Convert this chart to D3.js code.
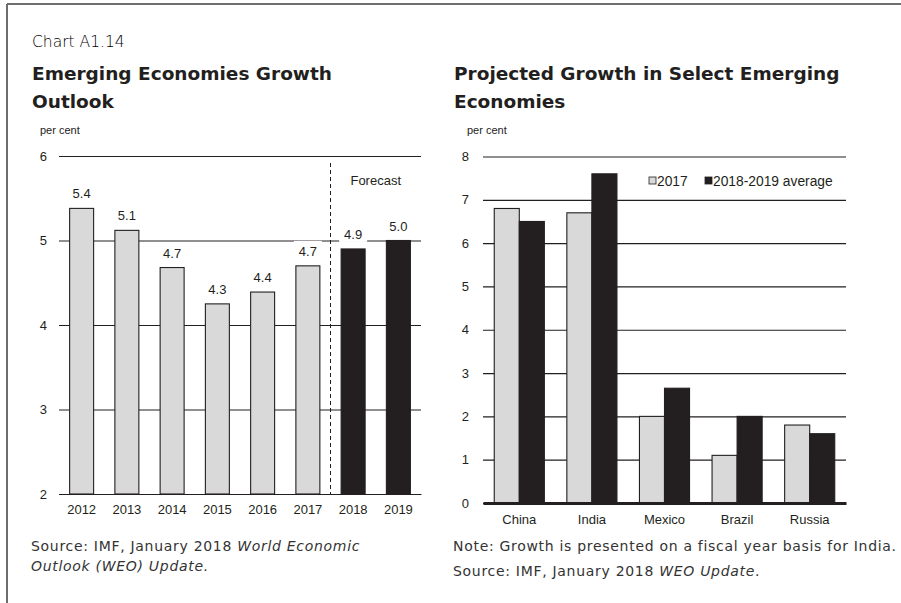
<!DOCTYPE html>
<html>
<head>
<meta charset="utf-8">
<script src="https://cdn.jsdelivr.net/npm/d3@7"></script>
<style>
  html, body { margin: 0; padding: 0; background: #fff; }
  svg { display: block; }
</style>
</head>
<body>
<svg id="chart" width="901" height="603"></svg>
<script>
// ---- Data ----
const years = ["2012", "2013", "2014", "2015", "2016", "2017", "2018", "2019"];
const growth = [5.38, 5.12, 4.68, 4.25, 4.39, 4.70, 4.90, 5.00];
const growthLabels = ["5.4", "5.1", "4.7", "4.3", "4.4", "4.7", "4.9", "5.0"];
const forecastYears = ["2018", "2019"];
const leftTicks = [2, 3, 4, 5, 6];

const countries = ["China", "India", "Mexico", "Brazil", "Russia"];
const series = ["2017", "2018-2019 average"];
const growth2017 = [6.8, 6.7, 2.0, 1.1, 1.8];
const growthAvg = [6.5, 7.6, 2.65, 2.0, 1.6];
const rightTicks = [0, 1, 2, 3, 4, 5, 6, 7, 8];

const svg = d3.select("#chart");
const font = "'Liberation Sans', Arial, sans-serif";
const titleFont = "'DejaVu Sans', sans-serif";
const GREY = "#d9d9d9", BLACK = "#231f20";
const NOTE_SIZE = 14, NOTE_LS = 0.7;

// frame
svg.append("line").attr("x1", 7).attr("x2", 901).attr("y1", 4).attr("y2", 4)
  .attr("stroke", "#6d6d6d").attr("stroke-width", 2);
svg.append("line").attr("x1", 7).attr("x2", 7).attr("y1", 4).attr("y2", 603)
  .attr("stroke", "#6d6d6d").attr("stroke-width", 2);

// titles
svg.append("text").attr("x", 32).attr("y", 47).text("Chart A1.14")
  .attr("font-family", titleFont).attr("font-size", 15.5).attr("font-weight", 300).attr("fill", "#000");
[["Emerging Economies Growth", 32, 80], ["Outlook", 32, 108],
 ["Projected Growth in Select Emerging", 454, 80], ["Economies", 454, 108]].forEach(([t, x, y]) => {
  svg.append("text").attr("x", x).attr("y", y).text(t)
    .attr("font-family", titleFont).attr("font-size", 18.5).attr("font-weight", "bold").attr("fill", "#231f20");
});

// ---------------- Left chart ----------------
const L = { x0: 59, x1: 421, yTop: 156, yBot: 494 };
const xL = d3.scaleBand().domain(years).range([L.x0, L.x1]).paddingInner(0.47).paddingOuter(0.235);
const yL = d3.scaleLinear().domain([2, 6]).range([L.yBot, L.yTop]);
const gL = svg.append("g");

gL.append("text").attr("x", 40).attr("y", 134).text("per cent")
  .attr("font-family", font).attr("font-size", 11).attr("fill", "#222");

const axL = gL.append("g").attr("transform", `translate(${L.x0},0)`)
  .call(d3.axisLeft(yL).tickValues(leftTicks).tickSize(-(L.x1 - L.x0)).tickPadding(12).tickFormat(d3.format("d")));
axL.select(".domain").remove();
axL.selectAll(".tick line").attr("stroke", "#231f20").attr("stroke-width", 1.2);
axL.selectAll(".tick text").attr("font-family", font).attr("font-size", 13).attr("fill", "#231f20");

// dashed forecast separator
const sepX = (xL("2017") + xL.bandwidth() + xL("2018")) / 2;
gL.append("line").attr("x1", sepX).attr("x2", sepX).attr("y1", 163).attr("y2", L.yBot)
  .attr("stroke", "#231f20").attr("stroke-width", 1).attr("stroke-dasharray", "4,3");

// bars
gL.selectAll("rect.bar").data(years).enter().append("rect")
  .attr("x", d => xL(d)).attr("width", xL.bandwidth())
  .attr("y", (d, i) => yL(growth[i])).attr("height", (d, i) => yL(2) - yL(growth[i]))
  .attr("fill", d => forecastYears.includes(d) ? BLACK : GREY)
  .attr("stroke", "#231f20").attr("stroke-width", 1.1);

// value labels with white boxes
const lab = gL.selectAll("g.lab").data(years).enter().append("g");
lab.append("rect")
  .attr("x", d => xL(d) + xL.bandwidth() / 2 - 14).attr("width", 28)
  .attr("y", (d, i) => yL(growth[i]) - 25).attr("height", 18).attr("fill", "#fff");
lab.append("text")
  .attr("x", d => xL(d) + xL.bandwidth() / 2)
  .attr("y", (d, i) => yL(growth[i]) - 10)
  .attr("text-anchor", "middle").text((d, i) => growthLabels[i])
  .attr("font-family", font).attr("font-size", 13).attr("fill", "#231f20");

// forecast label
gL.append("rect").attr("x", 346).attr("y", 170).attr("width", 62).attr("height", 20).attr("fill", "#fff");
gL.append("text").attr("x", (xL("2018") + xL("2019") + xL.bandwidth()) / 2).attr("y", 185)
  .attr("text-anchor", "middle").text("Forecast")
  .attr("font-family", font).attr("font-size", 13).attr("fill", "#231f20");

// x axis
const axXL = gL.append("g").attr("transform", `translate(0,${L.yBot})`)
  .call(d3.axisBottom(xL).tickSize(0).tickPadding(11));
axXL.select(".domain").attr("stroke", "#231f20").attr("stroke-width", 1.2);
axXL.selectAll(".tick text").attr("font-family", font).attr("font-size", 13).attr("fill", "#231f20");

// source
const srcL = svg.append("text").attr("font-family", titleFont).attr("font-size", NOTE_SIZE)
  .attr("letter-spacing", NOTE_LS).attr("fill", "#333");
srcL.append("tspan").attr("x", 31).attr("y", 551).text("Source: IMF, January 2018 ");
srcL.append("tspan").attr("font-style", "italic").text("World Economic");
svg.append("text").attr("x", 31).attr("y", 571).attr("font-family", titleFont).attr("font-size", NOTE_SIZE)
  .attr("letter-spacing", NOTE_LS).attr("font-style", "italic").attr("fill", "#333").text("Outlook (WEO) Update.");

// ---------------- Right chart ----------------
const R = { x0: 483, x1: 846, yTop: 156.5, yBot: 503 };
const xR = d3.scaleBand().domain(countries).range([R.x0, R.x1]).paddingInner(0.31).paddingOuter(0.155);
const xR1 = d3.scaleBand().domain(series).range([0, xR.bandwidth()]);
const yR = d3.scaleLinear().domain([0, 8]).range([R.yBot, R.yTop]);
const gR = svg.append("g");

gR.append("text").attr("x", 467).attr("y", 134).text("per cent")
  .attr("font-family", font).attr("font-size", 11).attr("fill", "#222");

const axR = gR.append("g").attr("transform", `translate(${R.x0},0)`)
  .call(d3.axisLeft(yR).tickValues(rightTicks).tickSize(-(R.x1 - R.x0)).tickPadding(14).tickFormat(d3.format("d")));
axR.select(".domain").remove();
axR.selectAll(".tick line").attr("stroke", "#231f20").attr("stroke-width", 1.2);
axR.selectAll(".tick text").attr("font-family", font).attr("font-size", 13).attr("fill", "#231f20");

// legend background (drawn before bars so bars stay visible)
gR.append("rect").attr("x", 644).attr("y", 170).attr("width", 196).attr("height", 22).attr("fill", "#fff");

const rows = countries.map((c, i) => ({ c, vals: [growth2017[i], growthAvg[i]] }));
const grp = gR.selectAll("g.grp").data(rows).enter().append("g")
  .attr("transform", d => `translate(${xR(d.c)},0)`);
grp.selectAll("rect").data(d => d.vals.map((v, j) => ({ s: series[j], v }))).enter().append("rect")
  .attr("x", d => xR1(d.s)).attr("width", xR1.bandwidth())
  .attr("y", d => yR(d.v)).attr("height", d => yR(0) - yR(d.v))
  .attr("fill", (d, j) => j === 0 ? GREY : BLACK)
  .attr("stroke", "#231f20").attr("stroke-width", 1.1);

const axXR = gR.append("g").attr("transform", `translate(0,${R.yBot})`)
  .call(d3.axisBottom(xR).tickSize(0).tickPadding(12));
axXR.select(".domain").attr("stroke", "#231f20").attr("stroke-width", 3);
axXR.selectAll(".tick text").attr("font-family", font).attr("font-size", 13).attr("fill", "#231f20");

// legend
const leg = [[649, "2017", GREY], [705, "2018-2019 average", BLACK]];
leg.forEach(([x, t, c]) => {
  gR.append("rect").attr("x", x).attr("y", 177).attr("width", 7).attr("height", 7)
    .attr("fill", c).attr("stroke", "#231f20").attr("stroke-width", 0.8);
  gR.append("text").attr("x", x + 8).attr("y", 186).text(t)
    .attr("font-family", font).attr("font-size", 13.8).attr("fill", "#231f20");
});

// notes
svg.append("text").attr("x", 453).attr("y", 551).attr("font-family", titleFont).attr("font-size", NOTE_SIZE)
  .attr("letter-spacing", NOTE_LS).attr("fill", "#333").text("Note: Growth is presented on a fiscal year basis for India.");
const srcR = svg.append("text").attr("font-family", titleFont).attr("font-size", NOTE_SIZE)
  .attr("letter-spacing", NOTE_LS).attr("fill", "#333");
srcR.append("tspan").attr("x", 453).attr("y", 576).text("Source: IMF, January 2018 ");
srcR.append("tspan").attr("font-style", "italic").text("WEO Update");
srcR.append("tspan").text(".");
</script>
</body>
</html>
